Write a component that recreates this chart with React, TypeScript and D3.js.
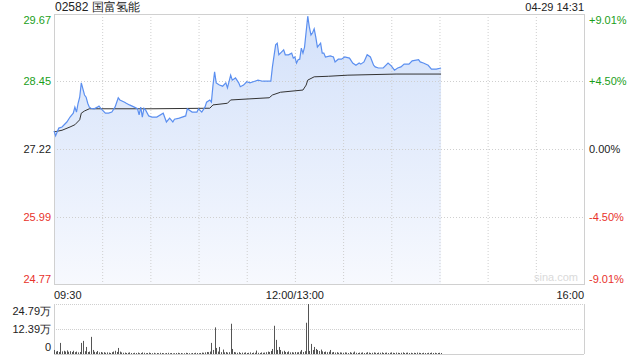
import React from "react";
import * as d3 from "d3";

const title = "02582 国富氢能";
const stamp = "04-29 14:31";
const prevClose = 27.22;
const priceTicks = [29.67, 28.45, 27.22, 25.99, 24.77];
const pctTicks = ["+9.01%", "+4.50%", "0.00%", "-4.50%", "-9.01%"];
const timeTickMinutes = [0, 150, 330];
const timeTickLabels = ["09:30", "12:00/13:00", "16:00"];
const volTicks = [24.79, 12.39, 0];
const volTickLabels = ["24.79万", "12.39万", "0"];

// minutes since 09:30 (trading minutes, lunch break removed)
const priceMinutes = [0, 1, 3, 5, 8, 10, 12, 13, 14, 15, 16, 17, 19, 20, 21, 22, 23, 25, 27, 28, 29, 30, 32, 34, 36, 38, 40, 41, 44, 45, 47, 50, 52, 53, 54, 55, 56, 57, 59, 61, 64, 68, 70, 72, 74, 75, 78, 82, 83, 86, 89, 90, 92, 94, 95, 97, 98, 99, 100, 101, 103, 105, 107, 108, 110, 111, 113, 115, 116, 118, 120, 122, 125, 127, 130, 132, 135, 136, 138, 139, 140, 141, 143, 144, 146, 148, 149, 150, 151, 152, 153, 154, 155, 156, 158, 159, 160, 161, 162, 163, 164, 166, 167, 168, 169, 172, 174, 175, 177, 179, 181, 184, 186, 188, 190, 191, 193, 195, 197, 199, 200, 202, 205, 208, 210, 212, 214, 216, 218, 221, 223, 227, 228, 230, 233, 235, 238, 241];
const prices = [27.55, 27.46, 27.6, 27.62, 27.71, 27.8, 27.87, 27.98, 27.89, 28.05, 28.16, 28.42, 28.2, 28.16, 28.05, 27.98, 27.96, 27.95, 27.98, 28.0, 27.96, 27.93, 27.87, 27.87, 27.89, 27.98, 28.15, 28.11, 28.07, 28.05, 28.02, 27.98, 27.95, 27.84, 27.98, 27.8, 27.96, 27.93, 27.82, 27.8, 27.8, 27.87, 27.71, 27.78, 27.71, 27.76, 27.78, 27.82, 27.95, 27.89, 27.89, 27.95, 27.89, 27.98, 28.07, 28.11, 28.07, 28.38, 28.62, 28.42, 28.38, 28.36, 28.42, 28.33, 28.56, 28.47, 28.51, 28.42, 28.35, 28.38, 28.44, 28.42, 28.45, 28.47, 28.45, 28.45, 28.45, 28.71, 29.11, 29.14, 28.93, 28.96, 29.02, 28.93, 28.93, 28.96, 28.87, 28.89, 28.78, 28.84, 28.85, 29.05, 28.96, 29.07, 29.63, 29.43, 29.29, 29.33, 29.4, 29.25, 29.07, 29.14, 28.96, 28.96, 28.89, 28.91, 28.89, 28.8, 28.85, 28.85, 28.89, 28.87, 28.78, 28.74, 28.78, 28.76, 28.8, 28.93, 28.89, 28.74, 28.71, 28.69, 28.69, 28.78, 28.73, 28.65, 28.69, 28.71, 28.76, 28.76, 28.82, 28.84, 28.8, 28.78, 28.74, 28.67, 28.67, 28.69];

const avgMinutes = [0, 5, 10, 13, 16, 17, 19, 22, 28, 61, 97, 99, 108, 110, 122, 134, 136, 141, 155, 157, 158, 162, 171, 183, 213, 241];
const avgPrices = [27.53, 27.56, 27.62, 27.66, 27.75, 27.87, 27.91, 27.95, 27.95, 27.95, 27.96, 28.02, 28.05, 28.11, 28.13, 28.15, 28.2, 28.25, 28.29, 28.38, 28.47, 28.53, 28.54, 28.56, 28.58, 28.58];

// volume per minute (万), minute 0..241
const volumes = [
  2.0, 1.2, 1.5, 1.0, 5.5, 1.3, 1.6, 1.2, 1.8, 1.1,
  1.4, 1.0, 1.6, 0.9, 1.2, 0.8, 1.0, 5.5, 6.5, 1.4,
  3.5, 1.0, 1.2, 8.5, 2.0, 1.1, 0.9, 1.5, 0.8, 1.0,
  0.7, 0.9, 0.6, 0.8, 0.7, 0.5, 0.9, 1.2, 1.6, 1.0,
  3.0, 1.2, 0.8, 0.6, 0.7, 0.5, 0.6, 0.8, 0.5, 0.4,
  0.6, 0.5, 0.7, 0.4, 0.5, 0.8, 0.6, 0.4, 0.5, 0.7,
  0.5, 0.4, 0.6, 0.3, 0.5, 0.4, 0.6, 0.5, 0.4, 0.3,
  0.5, 0.6, 0.4, 0.5, 0.3, 0.4, 0.5, 0.6, 0.4, 0.5,
  0.3, 0.4, 0.6, 0.5, 0.4, 0.3, 0.5, 0.4, 0.6, 0.5,
  0.4, 0.5, 0.7, 0.6, 0.8, 1.0, 0.9, 1.2, 5.5, 2.0,
  13.2, 3.0, 1.2, 3.5, 0.9, 2.2, 0.8, 1.0, 0.7, 0.9,
  15.0, 2.5, 1.0, 0.8, 0.6, 0.9, 0.5, 0.7, 0.6, 0.8,
  0.5, 0.6, 0.8, 0.5, 0.7, 0.6, 1.7, 0.6, 0.5, 0.8,
  0.6, 0.7, 0.9, 1.2, 1.0, 1.5, 2.5, 14.0, 7.0, 2.0,
  3.5, 2.0, 1.2, 1.6, 1.0, 0.9, 1.3, 0.8, 0.9, 0.7,
  1.0, 0.8, 0.9, 1.2, 2.0, 1.0, 1.4, 15.5, 24.79, 1.5,
  5.0, 2.0, 3.5, 2.5, 2.0, 1.5, 2.2, 1.3, 1.0, 1.2,
  0.9, 1.1, 2.0, 0.8, 1.0, 0.7, 0.9, 0.6, 0.8, 0.7,
  0.6, 0.8, 0.7, 0.5, 0.9, 0.6, 0.7, 1.2, 0.6, 0.5,
  0.7, 0.6, 0.8, 0.5, 0.6, 0.9, 0.7, 0.5, 0.6, 0.8,
  0.6, 0.5, 0.7, 0.6, 0.8, 0.5, 0.6, 0.7, 0.5, 0.6,
  0.8, 0.6, 0.5, 0.7, 0.6, 0.5, 0.6, 0.8, 0.5, 0.6,
  0.7, 0.5, 0.6, 0.4, 0.6, 0.5, 0.7, 0.6, 0.5, 0.4,
  0.6, 0.5, 0.4, 0.6, 0.5, 0.7, 0.5, 0.6, 0.4, 0.5,
  0.6, 0.5,
];

const FONT = "'Liberation Sans', Arial, sans-serif";
const GREEN = "#1a9e1a";
const RED = "#e8322b";
const GRID = "#cfcfcf";

export default function App() {
  const L = 54, R = 584, T = 14, B = 284;
  const VT = 304, VB = 354;
  const x = d3.scaleLinear().domain([0, 330]).range([L, R]);
  const y = d3.scaleLinear().domain([priceTicks[4], priceTicks[0]]).range([B, T]);
  const yv = d3.scaleLinear().domain([0, volTicks[0]]).range([VB, VT]);

  const pts = priceMinutes.map((m, i) => [m, prices[i]] as [number, number]);
  const line = d3.line<[number, number]>().x((d) => x(d[0])).y((d) => y(d[1]));
  const area = d3.area<[number, number]>().x((d) => x(d[0])).y0(B).y1((d) => y(d[1]));
  const avgPts = avgMinutes.map((m, i) => [m, avgPrices[i]] as [number, number]);

  const vgrid = d3.range(30, 330, 30);
  const labelColor = (i: number) => (i < 2 ? GREEN : i === 2 ? "#222" : RED);

  return (
    <div style={{ position: "fixed", left: 0, top: 0 }}>
      <svg width={640} height={360} style={{ display: "block", background: "#fff" }} fontFamily={FONT}>
        <defs>
          <linearGradient id="fillg" x1="0" y1="0" x2="0" y2="1">
            <stop offset="0%" stopColor="#d3e1fa" />
            <stop offset="100%" stopColor="#f7f9fe" />
          </linearGradient>
        </defs>
        <text x={L + 1} y={11} fontSize={12} fill="#222">{title}</text>
        <text x={R} y={11} fontSize={11} fill="#222" textAnchor="end">{stamp}</text>

        {/* price area + line */}
        <path d={area(pts) || ""} fill="url(#fillg)" />

        {/* grid */}
        {vgrid.map((m) => (
          <line key={"vg" + m} x1={x(m) + 0.5} x2={x(m) + 0.5} y1={T} y2={B} stroke={GRID} strokeDasharray="1,2" />
        ))}
        {priceTicks.slice(1, 4).map((p) => (
          <line key={"hg" + p} x1={L} x2={R} y1={Math.round(y(p)) + 0.5} y2={Math.round(y(p)) + 0.5} stroke={GRID} strokeDasharray="1,2" />
        ))}
        <rect x={L + 0.5} y={T + 0.5} width={R - L} height={B - T} fill="none" stroke="#d0d0d0" />

        <path d={line(avgPts) || ""} fill="none" stroke="#333" strokeWidth={1} />
        <path d={line(pts) || ""} fill="none" stroke="#5b8ff0" strokeWidth={1.2} />

        <text x={R - 6} y={B - 3} fontSize={11} fill="#dadada" textAnchor="end">sina.com</text>

        {/* axis labels */}
        {priceTicks.map((p, i) => {
          const yy = i === 0 ? T + 10 : i === 4 ? B - 1 : y(p) + 4;
          return (
            <g key={"pl" + i}>
              <text x={51} y={yy} fontSize={11} textAnchor="end" fill={labelColor(i)}>{p.toFixed(2)}</text>
              <text x={589} y={yy} fontSize={11} textAnchor="start" fill={labelColor(i)}>{pctTicks[i]}</text>
            </g>
          );
        })}
        {timeTickMinutes.map((m, i) => (
          <text key={"tl" + i} x={x(m)} y={299} fontSize={11} fill="#222" textAnchor={i === 0 ? "start" : i === 2 ? "end" : "middle"}>
            {timeTickLabels[i]}
          </text>
        ))}

        {/* volume */}
        <line x1={L} x2={R} y1={VT + 0.5} y2={VT + 0.5} stroke={GRID} strokeDasharray="1,1" />
        <line x1={L} x2={R} y1={Math.round(yv(volTicks[1])) + 0.5} y2={Math.round(yv(volTicks[1])) + 0.5} stroke={GRID} strokeDasharray="1,1" />
        <line x1={L + 0.5} x2={L + 0.5} y1={VT} y2={VB} stroke="#d0d0d0" />
        <line x1={R + 0.5} x2={R + 0.5} y1={VT} y2={VB} stroke="#d0d0d0" />
        <line x1={L} x2={R} y1={VB + 0.5} y2={VB + 0.5} stroke="#d0d0d0" />
        {volumes.map((v, m) => (
          <rect key={"vb" + m} x={Math.round(x(m))} y={yv(v)} width={1} height={VB - yv(v)} fill="#555" />
        ))}
        {volTicks.map((v, i) => {
          const yy = i === 0 ? VT + 11 : i === 2 ? VB - 3 : yv(v) + 4;
          return (
            <text key={"vl" + i} x={51} y={yy} fontSize={11} textAnchor="end" fill="#222">{volTickLabels[i]}</text>
          );
        })}
      </svg>
    </div>
  );
}
